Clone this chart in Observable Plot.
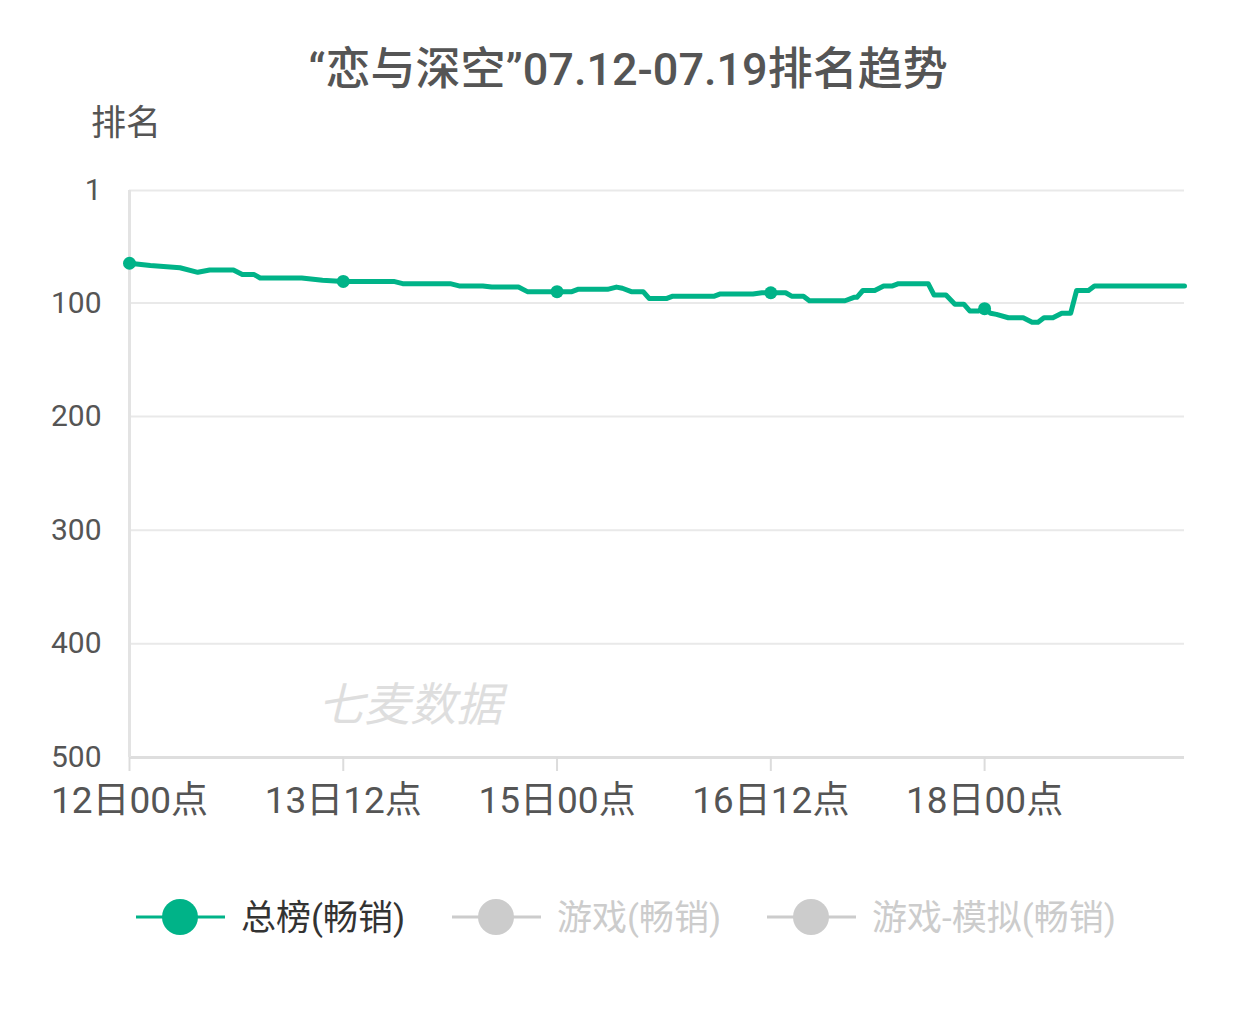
<!DOCTYPE html>
<html>
<head>
<meta charset="utf-8">
<script src="https://cdn.jsdelivr.net/npm/d3@7"></script>
<script src="https://cdn.jsdelivr.net/npm/@observablehq/plot@0.6"></script>
<style>
  html, body { margin: 0; padding: 0; background: #fff; }
  #wrap { position: relative; width: 1259px; height: 1012px; font-family: Roboto, "Noto Sans CJK SC", "Noto Sans", sans-serif; }
  #title { position: absolute; left: 0; width: 1256px; top: 45px; text-align: center; font-size: 45px; line-height: 50px; color: #555; font-weight: 500; }
  #ylabel { position: absolute; left: 91px; top: 104px; font-size: 35px; line-height: 40px; color: #555; }
  #chart { position: absolute; left: 0; top: 150px; }
  #watermark { position: absolute; left: 318px; top: 680px; font-size: 46px; line-height: 50px; color: #dedede; font-style: italic; }
  .leg { position: absolute; top: 893px; height: 48px; display: flex; align-items: center; font-size: 35px; }
  .leg span { position: relative; top: -3px; }
  .leg svg { display: block; margin-right: 16px; }
</style>
</head>
<body>
<div id="wrap">
  <div id="title"></div>
  <div id="ylabel"></div>
  <div id="chart"></div>
  <div id="watermark"></div>
  <div id="legend"></div>
</div>
<script>
// ---- data ----
const titleText = "“恋与深空”07.12-07.19排名趋势";
const yLabelText = "排名";
const watermarkText = "七麦数据";

const times = [
  "2024-07-12T00:00","2024-07-12T03:30","2024-07-12T08:30","2024-07-12T11:30","2024-07-12T13:30",
  "2024-07-12T17:30","2024-07-12T19:00","2024-07-12T21:00","2024-07-12T22:00","2024-07-13T05:00",
  "2024-07-13T08:30","2024-07-13T12:00","2024-07-13T20:30","2024-07-13T22:00","2024-07-14T06:00",
  "2024-07-14T07:30","2024-07-14T11:30","2024-07-14T13:00","2024-07-14T17:30","2024-07-14T19:00",
  "2024-07-15T00:00","2024-07-15T02:30","2024-07-15T03:30","2024-07-15T08:30","2024-07-15T10:00",
  "2024-07-15T11:00","2024-07-15T12:30","2024-07-15T14:30","2024-07-15T15:30","2024-07-15T18:30",
  "2024-07-15T19:30","2024-07-16T02:30","2024-07-16T03:30","2024-07-16T09:00","2024-07-16T10:30",
  "2024-07-16T12:00","2024-07-16T14:30","2024-07-16T15:30","2024-07-16T17:30","2024-07-16T18:30",
  "2024-07-17T00:30","2024-07-17T02:00","2024-07-17T02:30","2024-07-17T03:30","2024-07-17T05:30",
  "2024-07-17T07:00","2024-07-17T08:30","2024-07-17T09:30","2024-07-17T14:30","2024-07-17T15:30",
  "2024-07-17T17:30","2024-07-17T19:00","2024-07-17T20:30","2024-07-17T21:30","2024-07-17T23:00",
  "2024-07-18T00:00","2024-07-18T01:00","2024-07-18T02:00","2024-07-18T04:00","2024-07-18T06:30",
  "2024-07-18T08:00","2024-07-18T09:00","2024-07-18T10:00","2024-07-18T11:30","2024-07-18T13:00",
  "2024-07-18T14:30","2024-07-18T15:30","2024-07-18T17:30","2024-07-18T18:30","2024-07-19T09:40"
];
const ranks = [
  65, 67, 69, 73, 71,
  71, 75, 75, 78, 78,
  80, 81, 81, 83, 83,
  85, 85, 86, 86, 90,
  90, 90, 88, 88, 86,
  87, 90, 90, 96, 96,
  94, 94, 92, 92, 91,
  91, 91, 94, 94, 98,
  98, 95, 95, 89, 89,
  85, 85, 83, 83, 93,
  93, 101, 101, 107, 107,
  105, 109, 110, 113, 113,
  117, 117, 113, 113, 109,
  109, 89, 89, 85, 85
];
const xTickTimes = ["2024-07-12T00:00","2024-07-13T12:00","2024-07-15T00:00","2024-07-16T12:00","2024-07-18T00:00"];
const yTicks = [1, 100, 200, 300, 400, 500];
const yDomain = [1, 500];
const legendNames = ["总榜(畅销)", "游戏(畅销)", "游戏-模拟(畅销)"];
const legendActive = [true, false, false];

// ---- build ----
const green = "#00b388";
const data = times.map((t, i) => ({time: new Date(t), rank: ranks[i]}));
const xTicks = xTickTimes.map(t => new Date(t));
const tickSet = new Set(xTicks.map(d => +d));
const markers = data.filter(d => tickSet.has(+d.time));
const xDomain = [data[0].time, data[data.length - 1].time];
const fmt = d3.timeFormat("%d日%H点");

document.getElementById("title").textContent = titleText;
document.getElementById("ylabel").textContent = yLabelText;
document.getElementById("watermark").textContent = watermarkText;

const plot = Plot.plot({
  width: 1259,
  height: 700,
  marginTop: 40,
  marginLeft: 129,
  marginRight: 75,
  marginBottom: 93,
  style: {fontFamily: 'Roboto, "Noto Sans CJK SC", sans-serif', background: "transparent", overflow: "visible"},
  x: {type: "time", domain: xDomain, label: null, axis: null},
  y: {domain: yDomain, reverse: true, label: null, axis: null},
  marks: [
    Plot.ruleY(yTicks.filter(d => d !== 500), {stroke: "#e9e9e9", strokeWidth: 2}),
    Plot.ruleY([500], {stroke: "#dedede", strokeWidth: 3}),
    Plot.ruleX([xDomain[0]], {stroke: "#e3e3e3", strokeWidth: 3}),
    Plot.axisY(yTicks, {tickSize: 0, tickPadding: 28, fontSize: 30, fill: "#555", label: null, tickFormat: d => String(d)}),
    Plot.axisX(xTicks, {tickSize: 14, tickPadding: 15, fontSize: 37, fill: "#555", stroke: "#dcdcdc", strokeWidth: 2, label: null, tickFormat: fmt}),
    Plot.line(data, {x: "time", y: "rank", stroke: green, strokeWidth: 5, strokeLinejoin: "round", strokeLinecap: "round"}),
    Plot.dot(markers, {x: "time", y: "rank", r: 6.5, fill: green, stroke: null})
  ]
});
document.getElementById("chart").appendChild(plot);

// legend
const legendLefts = [136, 452, 767];
const legend = d3.select("#legend");
legendNames.forEach((name, i) => {
  const col = legendActive[i] ? green : "#cccccc";
  const item = legend.append("div").attr("class", "leg").style("left", legendLefts[i] + "px");
  const s = item.append("svg").attr("width", 89).attr("height", 48);
  s.append("line").attr("x1", 0).attr("x2", 89).attr("y1", 24).attr("y2", 24).attr("stroke", col).attr("stroke-width", 3);
  s.append("circle").attr("cx", 44).attr("cy", 24).attr("r", 18).attr("fill", col);
  item.append("span").text(name).style("color", legendActive[i] ? "#333" : "#cccccc");
});
</script>
</body>
</html>
